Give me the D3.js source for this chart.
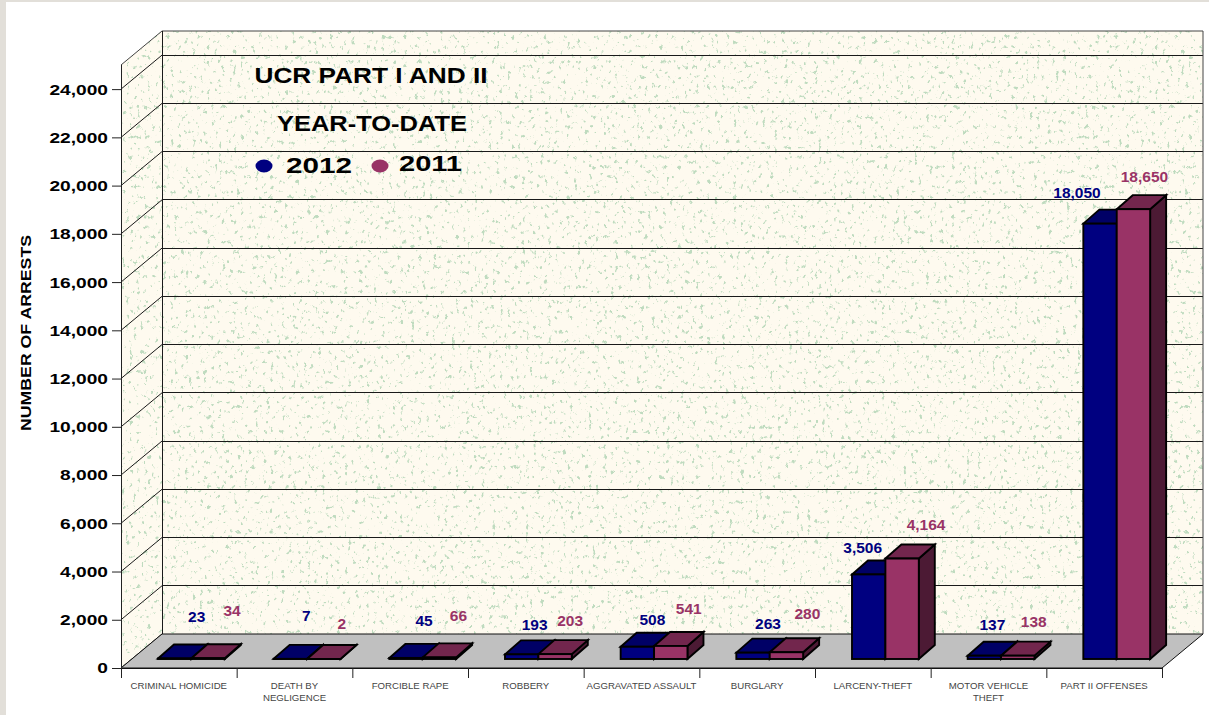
<!DOCTYPE html>
<html><head><meta charset="utf-8">
<script src="https://cdn.jsdelivr.net/npm/d3@7"></script>
<style>html,body{margin:0;padding:0;background:#fff;overflow:hidden}svg{display:block}text{font-family:"Liberation Sans",Arial,sans-serif}</style>
</head><body><svg id="c" width="1209" height="715"></svg>
<script>
const categories=[["CRIMINAL HOMICIDE"],["DEATH BY","NEGLIGENCE"],["FORCIBLE RAPE"],["ROBBERY"],["AGGRAVATED ASSAULT"],["BURGLARY"],["LARCENY-THEFT"],["MOTOR VEHICLE","THEFT"],["PART II OFFENSES"]];
const seriesNames=["2012","2011"];
const values2012=[23,7,45,193,508,263,3506,137,18050];
const values2011=[34,2,66,203,541,280,4164,138,18650];
const yTicks=d3.range(0,24001,2000);
const labelShift2012=[[14,-41],[8,-43],[10,-37],[5,-29],[7,-27],[7,-29],[-14,-26],[0,-31],[-31,-31]];
const labelShift2011=[[16,-47],[10,-35],[11,-41],[7,-33],[10,-37],[13,-38],[16,-34],[8,-34],[3,-32]];
const colors={a:{front:"#000080",top:"#000066",side:"#000050"},b:{front:"#993366",top:"#72264d",side:"#4c1a34"}};
const svg=d3.select("#c");
const defs=svg.append("defs");
const f=defs.append("filter").attr("id","spk").attr("x",0).attr("y",0).attr("width",1).attr("height",1).attr("color-interpolation-filters","sRGB");
f.append("feTurbulence").attr("type","fractalNoise").attr("baseFrequency","0.27 0.2").attr("numOctaves",3).attr("seed",11).attr("result","n");
f.append("feColorMatrix").attr("in","n").attr("type","matrix").attr("values","0 0 0 0 0.75  0 0 0 0 0.86  0 0 0 0 0.75  9 0 0 0 -5.75").attr("result","s");
f.append("feFlood").attr("flood-color","#fefaef").attr("result","bg");
f.append("feMerge").selectAll("feMergeNode").data(["bg","s"]).join("feMergeNode").attr("in",d=>d);

const L=121,R=1162,B=668,T=65,DX=41,DY=-34;
const x=d3.scaleBand().domain(d3.range(categories.length)).range([L,R]);
const y=d3.scaleLinear().domain([0,25000]).range([B,T]);
const barInset=37,barW=33.4,barDX=16,barDY=-14,barLift=-9;
const pts=a=>a.map(p=>p.join(",")).join(" ");

// page frame
svg.append("rect").attr("width",1209).attr("height",715).attr("fill","#fff");
svg.append("rect").attr("width",6).attr("height",715).attr("fill","#e2dfd9");
svg.append("rect").attr("width",1209).attr("height",2).attr("fill","#e2dfd9");

// walls
defs.append("clipPath").attr("id","side").append("polygon").attr("points",pts([[L,T],[L+DX,T+DY],[L+DX,B+DY],[L,B]]));
svg.append("rect").attr("x",L+DX).attr("y",T+DY).attr("width",R-L).attr("height",B-T).attr("filter","url(#spk)");
svg.append("g").attr("clip-path","url(#side)").append("rect").attr("x",L).attr("y",T+DY).attr("width",DX).attr("height",B-T-DY).attr("filter","url(#spk)");

// grid
const g=svg.append("g").attr("stroke","#1a1a1a").attr("stroke-width",1).attr("fill","none");
g.selectAll(".b").data(yTicks.slice(1)).join("line").attr("x1",L+DX).attr("x2",R+DX).attr("y1",d=>Math.floor(y(d)+DY)+.5).attr("y2",d=>Math.floor(y(d)+DY)+.5);
g.selectAll(".s").data(yTicks).join("line").attr("x1",L).attr("x2",L+DX).attr("y1",d=>y(d)).attr("y2",d=>y(d)+DY);
g.append("polyline").attr("points",pts([[L,T],[L+DX,T+DY],[R+DX,T+DY],[R+DX,B+DY]])).attr("stroke","#444");
g.append("line").attr("x1",L+DX+.5).attr("x2",L+DX+.5).attr("y1",T+DY).attr("y2",B+DY);

// floor
svg.append("polygon").attr("points",pts([[L,B],[L+DX,B+DY],[R+DX,B+DY],[R,B]])).attr("fill","#c0c0c0").attr("stroke","#111").attr("stroke-width",1);

// bars
function bars(vals,off,c){
  const gb=svg.append("g").attr("stroke","#000").attr("stroke-width",1.9).attr("stroke-linejoin","miter");
  vals.forEach((v,i)=>{
    const x0=x(i)+barInset+off*barW,x1=x0+barW,yb=y(0)+barLift,yt=y(v)+barLift;
    gb.append("polygon").attr("points",pts([[x1,yb],[x1+barDX,yb+barDY],[x1+barDX,yt+barDY],[x1,yt]])).attr("fill",c.side);
    gb.append("polygon").attr("points",pts([[x0,yt],[x0+barDX,yt+barDY],[x1+barDX,yt+barDY],[x1,yt]])).attr("fill",c.top);
    gb.append("rect").attr("x",x0).attr("y",yt).attr("width",barW).attr("height",yb-yt).attr("fill",c.front);
  });
}
bars(values2012,0,colors.a);
bars(values2011,1,colors.b);

// stretch helper
function widen(sel,k){sel.each(function(){const n=this;n.setAttribute("textLength",n.getComputedTextLength()*k);n.setAttribute("lengthAdjust","spacingAndGlyphs");});}

// value labels
function labels(vals,off,shift,col){
  svg.append("g").selectAll("text").data(vals).join("text")
    .attr("x",(d,i)=>x(i)+barInset+off*barW+barW/2+barDX/2+shift[i][0])
    .attr("y",(d,i)=>y(d)+barLift+shift[i][1]+5)
    .attr("text-anchor","middle").attr("font-size",15.5).attr("font-weight","bold").attr("fill",col)
    .text(d=>d3.format(",")(d));
}
labels(values2012,0,labelShift2012,"#000080");
labels(values2011,1,labelShift2011,"#993366");

// y axis
const ya=svg.append("g").attr("transform",`translate(${L},0)`).call(d3.axisLeft(y).tickValues(yTicks).tickSize(9).tickPadding(4).tickFormat(d3.format(",")));
ya.select(".domain").attr("d",`M0.5,${T}V${B}`).attr("stroke","#222");
ya.selectAll("line").attr("stroke","#222");
ya.selectAll("text").attr("font-size",14.5).attr("font-weight","bold").attr("fill","#000").style("font-family",'"Liberation Sans",Arial,sans-serif').attr("dy","0.34em");
widen(ya.selectAll("text"),1.32);
svg.append("text").attr("transform","translate(31,333) rotate(-90)").attr("text-anchor","middle").attr("font-size",15).attr("font-weight","bold").text("NUMBER OF ARRESTS").call(widen,1.18);

// x axis
const xg=svg.append("g");
xg.append("line").attr("x1",L).attr("x2",R).attr("y1",B+.5).attr("y2",B+.5).attr("stroke","#111");
xg.selectAll(".t").data(d3.range(categories.length+1)).join("line").attr("x1",i=>L+i*x.bandwidth()+.5).attr("x2",i=>L+i*x.bandwidth()+.5).attr("y1",B).attr("y2",B+10).attr("stroke","#222");
categories.forEach((lines,i)=>{
  lines.forEach((s,j)=>{
    xg.append("text").attr("x",x(i)+x.bandwidth()/2).attr("y",689+j*12).attr("text-anchor","middle").attr("font-size",8.6).attr("fill","#444").text(s).call(widen,1.12);
  });
});

// title and legend
const ttl=[["UCR PART I AND II",371,83,233,22],["YEAR-TO-DATE",372,131,190,22]];
ttl.forEach(([s,tx,ty,w,fs])=>svg.append("text").attr("x",tx).attr("y",ty).attr("text-anchor","middle").attr("font-size",fs).attr("font-weight","bold").attr("textLength",w).attr("lengthAdjust","spacingAndGlyphs").text(s));
const leg=[[264,166,286,173,66,colors.a.front],[380,166,399,171,63,colors.b.front]];
leg.forEach(([cx,cy,tx,ty,w,col],i)=>{
  svg.append("ellipse").attr("cx",cx).attr("cy",cy).attr("rx",8.5).attr("ry",6.5).attr("fill",col);
  svg.append("text").attr("x",tx).attr("y",ty).attr("font-size",22).attr("font-weight","bold").attr("textLength",w).attr("lengthAdjust","spacingAndGlyphs").text(seriesNames[i]);
});
</script></body></html>
